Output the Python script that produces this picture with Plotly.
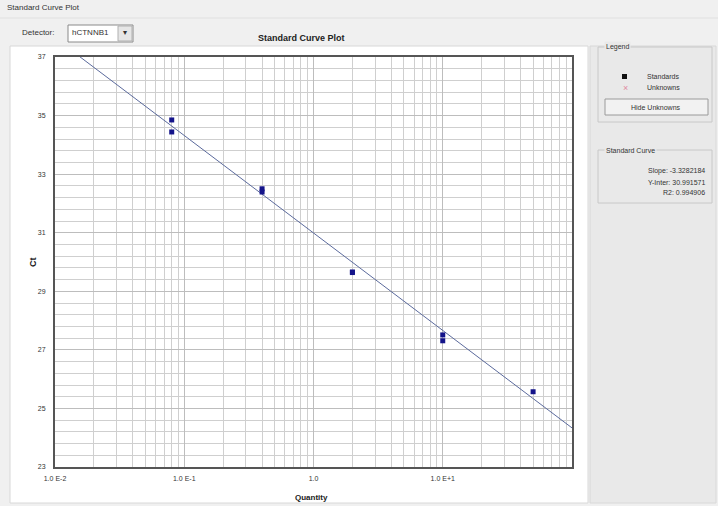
import plotly.graph_objects as go
import math

# ---- data ----
quantity = [0.08, 0.08, 0.4, 0.4, 2, 2, 10, 10, 50]
ct_values = [34.85, 34.44, 32.50, 32.39, 29.66, 29.64, 27.51, 27.31, 25.57]
slope = -3.3282184
y_inter = 30.991571
r2 = 0.994906
x_tick_vals = [0.01, 0.1, 1, 10]
x_tick_text = ["1.0 E-2", "1.0 E-1", "1.0", "1.0 E+1"]
y_tick_vals = [23, 25, 27, 29, 31, 33, 35, 37]

line_q = [0.01, 100]
line_ct = [slope * math.log10(q) + y_inter for q in line_q]

W, H = 718, 506
L, R, T, B = 55, 572, 57, 467
def px(x):
    return (x - L) / (R - L)
def py(y):
    return (B - y) / (B - T)

FONT = "Liberation Sans, Arial, sans-serif"

fig = go.Figure()
fig.add_trace(go.Scatter(x=line_q, y=line_ct, mode="lines",
                         line=dict(color="#5b6a9c", width=1), showlegend=False, hoverinfo="skip"))
fig.add_trace(go.Scatter(x=quantity, y=ct_values, mode="markers",
                         marker=dict(symbol="square", size=5, color="#14148a"), showlegend=False))

shapes = []
ann = []
# window background regions
shapes.append(dict(type="rect", xref="paper", yref="paper", x0=px(0), x1=px(W), y0=py(H), y1=py(0),
                   fillcolor="#f0f0f0", line=dict(width=0), layer="below"))
# white chart panel
shapes.append(dict(type="rect", xref="paper", yref="paper", x0=px(10), x1=px(588), y0=py(503), y1=py(46),
                   fillcolor="#ffffff", line=dict(color="#d8d8d8", width=1), layer="below"))
# right grey panel
shapes.append(dict(type="rect", xref="paper", yref="paper", x0=px(590), x1=px(716), y0=py(503), y1=py(46),
                   fillcolor="#e9e9e9", line=dict(color="#d8d8d8", width=1), layer="below"))
# top separator
shapes.append(dict(type="line", xref="paper", yref="paper", x0=px(0), x1=px(W), y0=py(18), y1=py(18),
                   line=dict(color="#e0e0e0", width=1)))
# dropdown
shapes.append(dict(type="rect", xref="paper", yref="paper", x0=px(68), x1=px(133), y0=py(42), y1=py(25),
                   fillcolor="#ffffff", line=dict(color="#8a8a8a", width=1)))
shapes.append(dict(type="rect", xref="paper", yref="paper", x0=px(118), x1=px(132), y0=py(41), y1=py(26),
                   fillcolor="#e6e6e6", line=dict(color="#b0b0b0", width=1)))
# Legend group box
shapes.append(dict(type="rect", xref="paper", yref="paper", x0=px(598), x1=px(712), y0=py(122), y1=py(47),
                   line=dict(color="#c8c8c8", width=1)))
# Hide Unknowns button
shapes.append(dict(type="rect", xref="paper", yref="paper", x0=px(605), x1=px(708), y0=py(115), y1=py(99),
                   fillcolor="#f2f2f2", line=dict(color="#9a9a9a", width=1)))
# Standard curve group box
shapes.append(dict(type="rect", xref="paper", yref="paper", x0=px(598), x1=px(712), y0=py(203), y1=py(150),
                   line=dict(color="#c8c8c8", width=1)))
# legend marker
shapes.append(dict(type="rect", xref="paper", yref="paper", x0=px(622), x1=px(627), y0=py(79), y1=py(74),
                   fillcolor="#111111", line=dict(width=0)))

def text(x, y, s, size=8, anchor="left", bold=False, color="#333333", angle=0, bg=None):
    ann.append(dict(xref="paper", yref="paper", x=px(x), y=py(y), text=("<b>%s</b>" % s) if bold else s,
                    showarrow=False, xanchor=anchor, yanchor="middle",
                    font=dict(family=FONT, size=size, color=color), textangle=angle,
                    bgcolor=bg))

text(5, 8, "Standard Curve Plot", 8)
text(20, 33, "Detector:", 8)
text(70, 33, "hCTNNB1", 8)
text(125, 33, "▾", 8, anchor="center")
text(301, 38, "Standard Curve Plot", 9, anchor="center", bold=True, color="#222222")
text(33, 262, "Ct", 9, anchor="center", bold=True, color="#222222", angle=-90)
text(311, 497, "Quantity", 8, anchor="center", bold=True, color="#222222")
text(604, 47, "Legend", 7, bg="#e9e9e9")
text(645, 76, "Standards", 7)
text(625, 88, "×", 9, anchor="center", color="#e08aa0")
text(645, 88, "Unknowns", 7)
text(656, 107, "Hide Unknowns", 7, anchor="center")
text(604, 150, "Standard Curve", 7, bg="#e9e9e9")
text(707, 171, "Slope: %.7f" % slope, 7, anchor="right")
text(707, 182, "Y-Inter: %.6f" % y_inter, 7, anchor="right")
text(707, 193, "R2: %.6f" % r2, 7, anchor="right")

fig.update_layout(
    width=W, height=H,
    margin=dict(l=L, r=W - R, t=T, b=H - B, pad=0),
    paper_bgcolor="#f0f0f0", plot_bgcolor="#ffffff",
    shapes=shapes, annotations=ann,
    font=dict(family=FONT, size=7, color="#333333"),
    xaxis=dict(type="log", range=[-2, 2], tickvals=x_tick_vals, ticktext=x_tick_text,
               showgrid=True, gridcolor="#bdbdbd", gridwidth=1,
               minor=dict(showgrid=True, gridcolor="#cfcfcf", dtick="D1", ticks=""),
               showline=True, linecolor="#555555", linewidth=2, mirror=True, zeroline=False,
               ticks="", tickfont=dict(size=7, family=FONT), ticklabelstandoff=4),
    yaxis=dict(range=[23, 37], tickvals=y_tick_vals,
               showgrid=True, gridcolor="#bdbdbd", gridwidth=1,
               minor=dict(showgrid=True, gridcolor="#cfcfcf", dtick=0.4, tick0=23, ticks=""),
               showline=True, linecolor="#555555", linewidth=2, mirror=True, zeroline=False,
               ticks="", tickfont=dict(size=7, family=FONT), ticklabelstandoff=6),
    showlegend=False,
)

fig.write_html("out.html")
